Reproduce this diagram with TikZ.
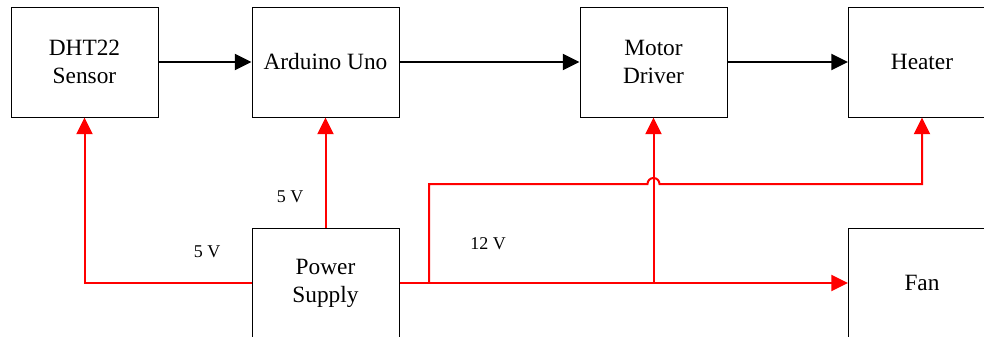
\documentclass[tikz,border=0pt]{standalone}
\usepackage{fontspec}
\setmainfont{Liberation Serif}
\usetikzlibrary{arrows.meta}
\usetikzlibrary{calc}
\usetikzlibrary{positioning}
\tikzstyle{block} = [draw, line width=0.75pt, minimum width=110.25pt, minimum height=82.5pt, inner sep=0pt, align=center, font=\fontsize{17.5}{21}\selectfont]
\tikzstyle{power} = [draw=red, line width=1.5pt]
\tikzstyle{signal} = [draw=black, line width=1.5pt]
\tikzstyle{volt} = [font=\fontsize{13.5}{16}\selectfont]

\begin{document}
\begin{tikzpicture}[x=0.75pt, y=-0.75pt, >={Triangle[length=12.5pt,width=12pt]}]
  \useasboundingbox (0,0) rectangle (984,336);
  \node [block, name=dht] at (84.5,62) {DHT22\\Sensor};
  \node [block, name=uno] at (325.5,62) {Arduino Uno};
  \node [block, name=motor] at (653.5,62) {Motor\\Driver};
  \node [block, name=heater] at (922,62) {Heater};
  \node [block, name=psu] at (325.5,283) {Power\\Supply};
  \node [block, name=fan] at (922,283) {Fan};
  \coordinate (tap) at (429,282);
  \coordinate (bend) at (429,184);
  \coordinate (hop) at (motor.south |- bend);
  % signal path
  \draw [signal,->] (dht) -- (uno);
  \draw [signal,->] (uno) -- (motor);
  \draw [signal,->] (motor) -- (heater);
  % supply lines
  \draw [power,->] (psu.west) -| (dht.south);
  \draw [power,->] (psu.north) -- (uno.south);
  \draw [power,->] (psu.east) -- (fan.west);
  \draw [power,->] (motor.south |- psu.east) -- (motor.south);
  \draw [power,->] (tap) -- (bend) -- ([xshift=-4.5pt]hop)
    arc[start angle=180, end angle=0, radius=4.5pt] -- (heater.south |- bend) -- (heater.south);
  \node [volt, name=v1] at (290,197) {5 V};
  \node [volt, name=v2] at (207,252) {5 V};
  \node [volt, name=v3] at (488,244) {12 V};
\end{tikzpicture}
\end{document}
